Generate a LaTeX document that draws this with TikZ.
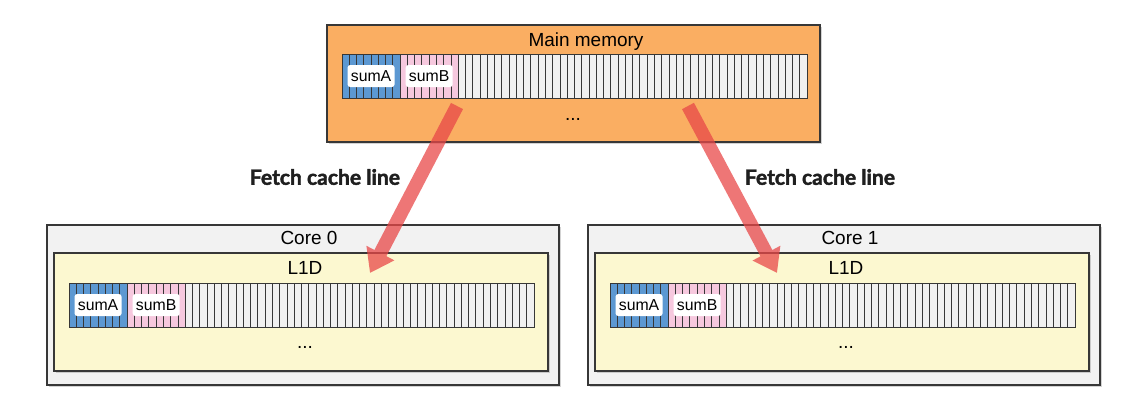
\documentclass[tikz,border=0pt]{standalone}
\usepackage{fontspec}
\setmainfont{Liberation Sans}
\newfontfamily\fetchfont{Lato}[BoldFeatures={FakeBold=2}]
\usetikzlibrary{arrows.meta,fit,shadows,positioning}
\definecolor{memorange}{RGB}{250,174,98}
\definecolor{coregray}{RGB}{242,242,242}
\definecolor{lonefill}{RGB}{252,248,208}
\definecolor{cellgray}{RGB}{240,240,240}
\definecolor{sumblue}{RGB}{92,152,210}
\definecolor{sumpink}{RGB}{246,200,222}
\definecolor{boxline}{RGB}{55,55,55}
\definecolor{fetchred}{RGB}{232,72,72}

\begin{document}
\begin{tikzpicture}[x=0.02cm,y=-0.02cm,
  box/.style={draw=boxline,line width=0.7pt,inner sep=0pt,
    drop shadow={shadow xshift=0.04cm,shadow yshift=-0.04cm,opacity=0.35,fill=gray}},
  cellline/.style={draw=boxline,line width=0.5pt},
  tag/.style={fill=white,rounded corners=1.5pt,minimum width=0.94cm,minimum height=0.44cm,
    inner sep=0pt,font=\fontsize{9}{10}\selectfont},
  title/.style={font=\fontsize{10.8}{12}\selectfont},
  fetch/.style={fetchred,line width=0.27cm,-{Triangle[width=0.6cm,length=0.45cm]}},
  fetchtext/.style={font=\fetchfont\bfseries\fontsize{12}{14}\selectfont,text=black!88}]
\useasboundingbox (0,0) rectangle (1138,403);
\node[box,fill=memorange,fit={(327,25) (820,142)}] (mem) {};
\node[box,fill=coregray,fit={(47,225) (559,385)}] (core0) {};
\node[box,fill=lonefill,fit={(54,253) (548,371)}] (lzero) {};
\node[box,fill=coregray,fit={(588,225) (1100,385)}] (core1) {};
\node[box,fill=lonefill,fit={(595,253) (1089,371)}] (lone) {};
\node[title] (memtitle) at (586,42) {Main memory};
\node[title] (core0title) at (309,238) {Core 0};
\node[title] (lzerotitle) at (305,268) {L1D};
\node[title] (core1title) at (850,238) {Core 1};
\node[title] (lonetitle) at (846,268) {L1D};
\node[title] (memdots) at (573,119) {...};
\node[title] (lzerodots) at (305,347) {...};
\node[title] (lonedots) at (846,347) {...};
% cache lines
\foreach \sx/\sy/\nm in {342/54/mem, 69/283/lzero, 610/283/lone}{
  \fill[cellgray] (\sx,\sy) rectangle ++(465,44);
  \fill[sumblue] (\sx,\sy) rectangle ++(58.125,44);
  \fill[sumpink] (\sx+58.125,\sy) rectangle ++(58.125,44);
  \foreach \i in {1,...,63}
    \draw[cellline] (\sx+\i*7.265625,\sy) -- ++(0,44);
  \draw[cellline] (\sx,\sy) rectangle ++(465,44);
  \node[tag] (\nm-a) at (\sx+29.06,\sy+22) {sumA};
  \node[tag] (\nm-b) at (\sx+87.19,\sy+22) {sumB};
}
\coordinate (tail0) at (457,106);
\coordinate (tip0) at (370,273);
\coordinate (tail1) at (688,106);
\coordinate (tip1) at (777,273);
\begin{scope}[transparency group,opacity=0.75]
\draw[fetch] (tail0) -- (tip0);
\end{scope}
\begin{scope}[transparency group,opacity=0.75]
\draw[fetch] (tail1) -- (tip1);
\end{scope}
\node[fetchtext] (fetch0) at (325,177) {Fetch cache line};
\node[fetchtext] (fetch1) at (820,177) {Fetch cache line};
\end{tikzpicture}
\end{document}
